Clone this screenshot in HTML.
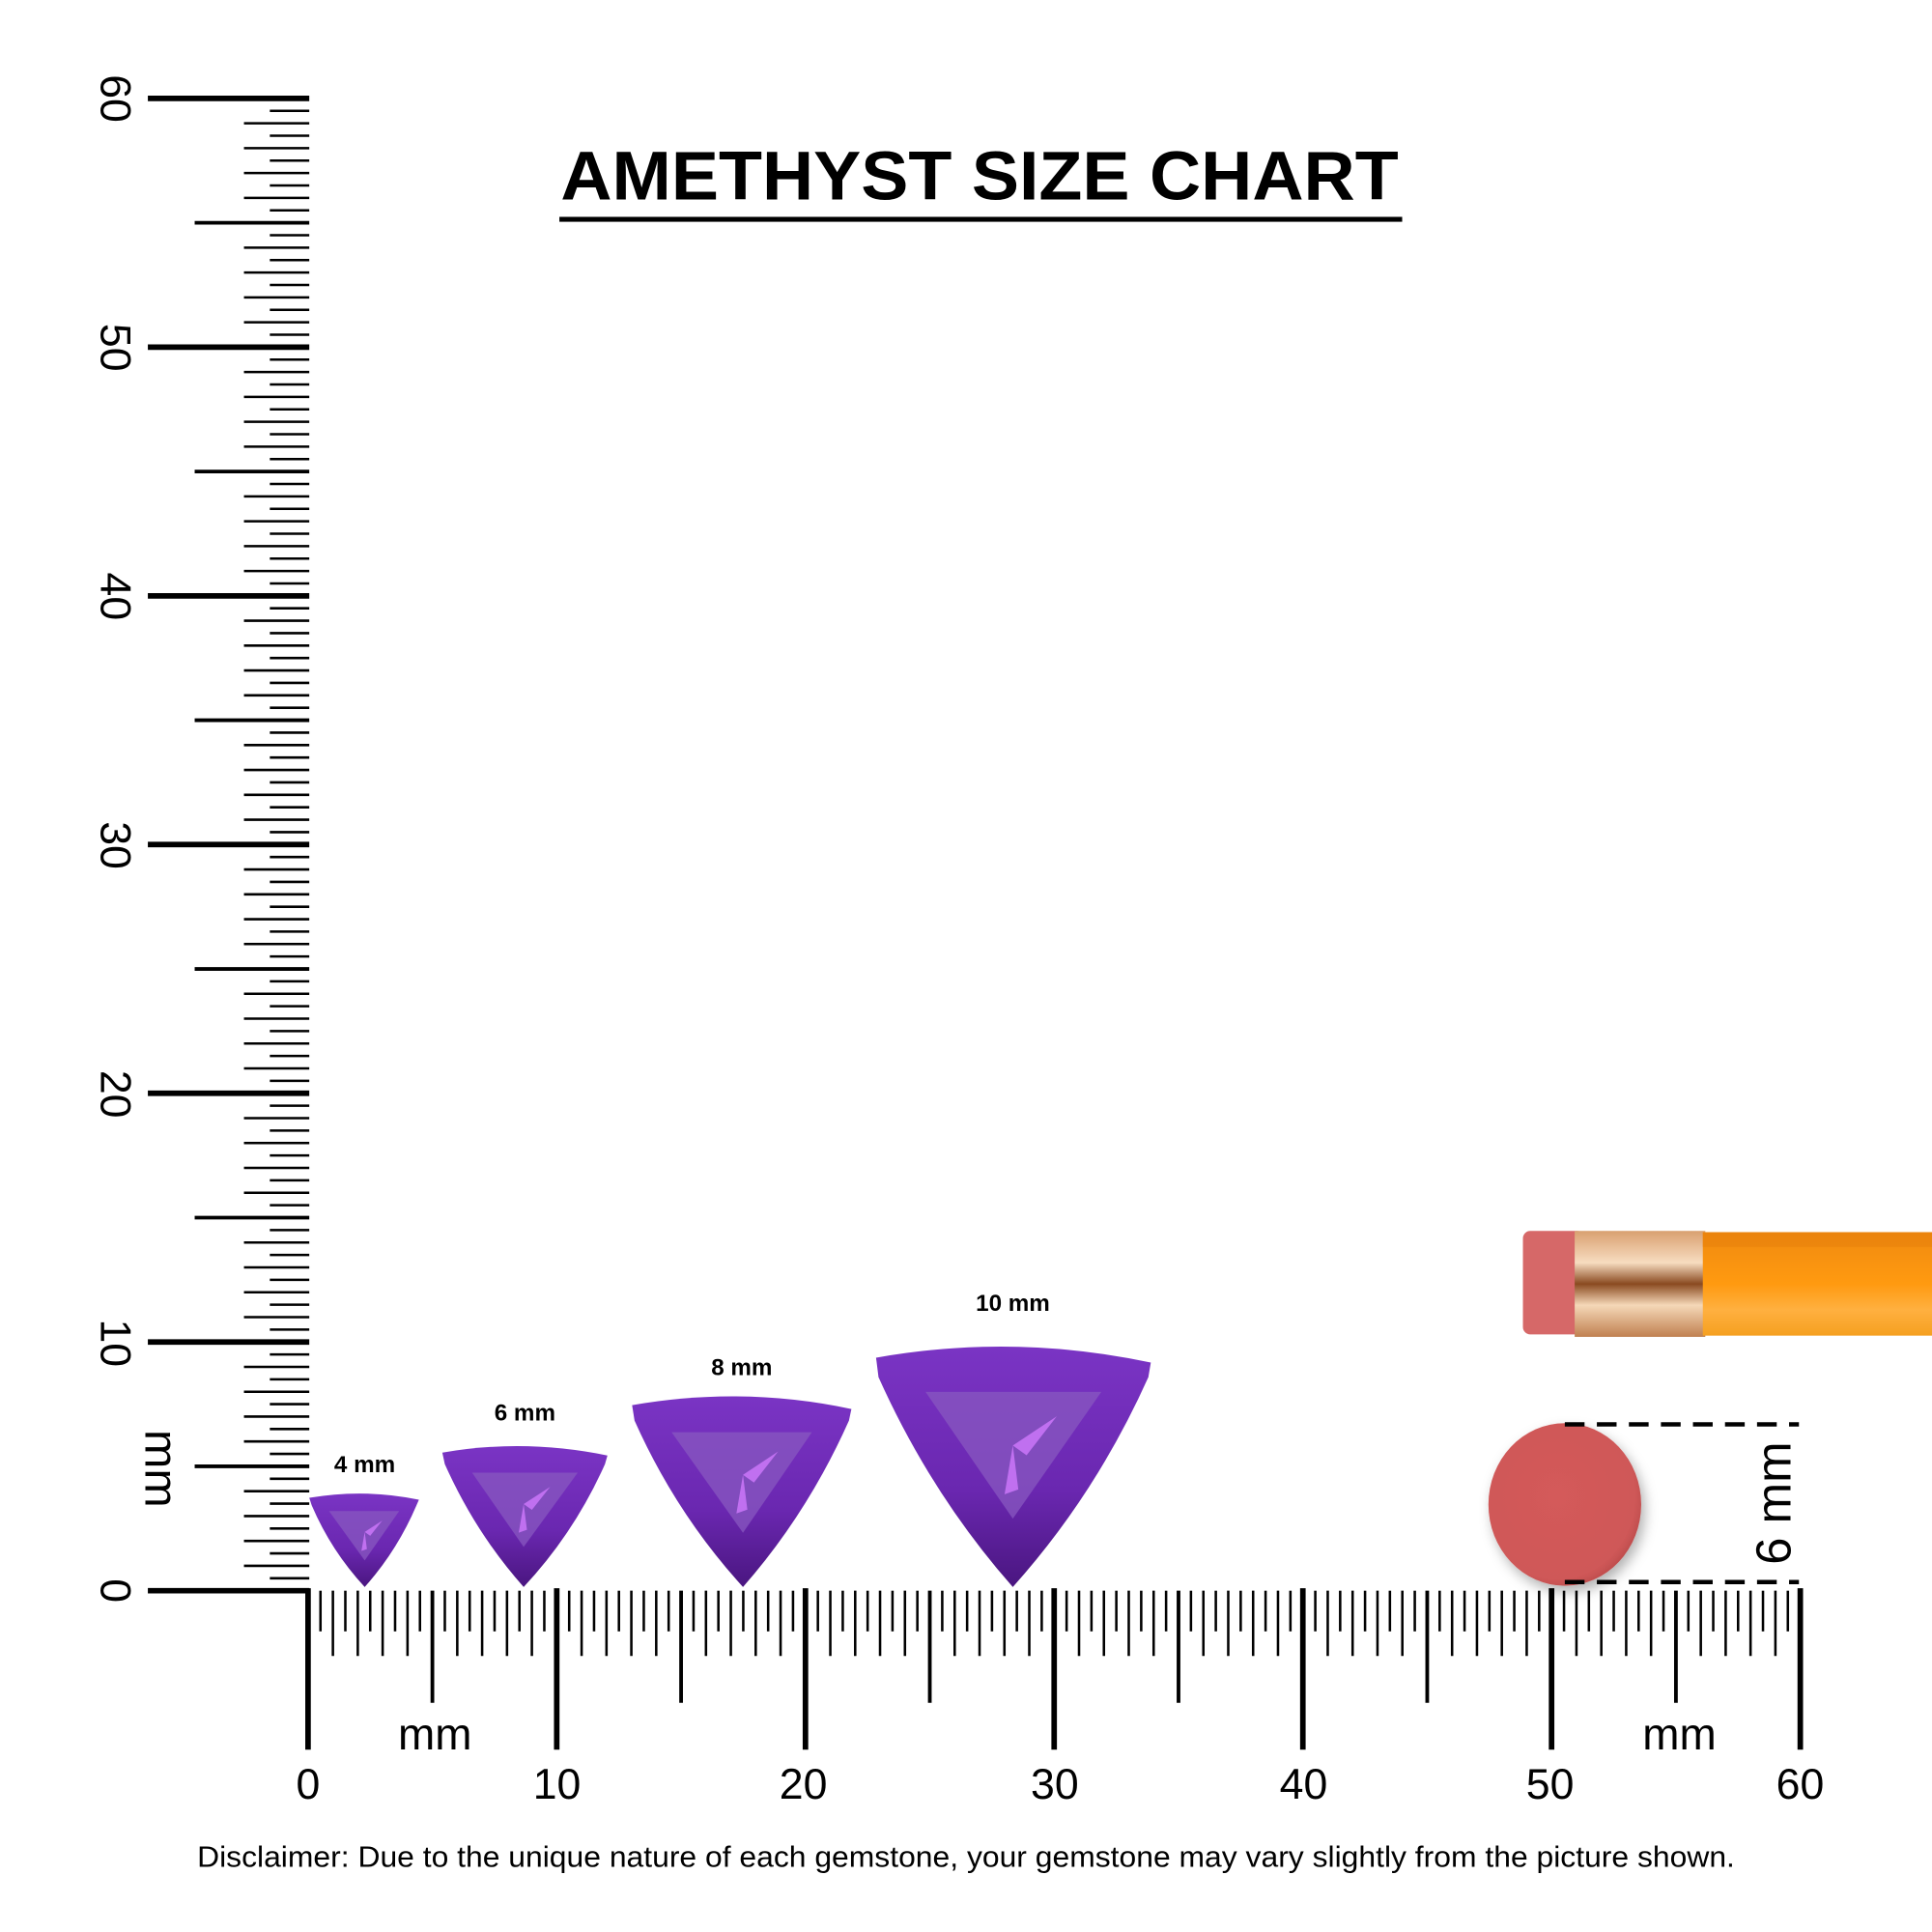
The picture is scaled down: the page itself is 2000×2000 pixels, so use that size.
<!DOCTYPE html>
<html><head><meta charset="utf-8"><style>
html,body{margin:0;padding:0;background:#fff;}
svg{display:block}
</style></head><body>
<svg id="s" width="2000" height="2000" viewBox="0 0 1568 1568" xmlns="http://www.w3.org/2000/svg">
<defs>
<linearGradient id="gm" x1="0" y1="0" x2="0" y2="1">
<stop offset="0" stop-color="#7a34c4"/><stop offset="0.6" stop-color="#6a27b0"/><stop offset="1" stop-color="#4a1680"/>
</linearGradient>
<linearGradient id="pen" x1="0" y1="0" x2="0" y2="1">
<stop offset="0" stop-color="#f08a10"/><stop offset="0.5" stop-color="#ff9a10"/><stop offset="0.75" stop-color="#ffb040"/><stop offset="1" stop-color="#f5a020"/>
</linearGradient>
<linearGradient id="fer" x1="0" y1="0" x2="0" y2="1">
<stop offset="0" stop-color="#d9a070"/><stop offset="0.3" stop-color="#f7dcc0"/><stop offset="0.5" stop-color="#8a4a20"/><stop offset="0.7" stop-color="#f5d8b8"/><stop offset="1" stop-color="#c08050"/>
</linearGradient>
<radialGradient id="er" cx="0.45" cy="0.45" r="0.6">
<stop offset="0" stop-color="#d45a5a"/><stop offset="0.85" stop-color="#cf5858"/><stop offset="1" stop-color="#b84848"/>
</radialGradient>
<filter id="sh" x="-30%" y="-30%" width="160%" height="160%"><feDropShadow dx="3" dy="5" stdDeviation="5" flood-color="#000" flood-opacity="0.3"/></filter>
</defs>
<g id="ticks" stroke="#000" stroke-linecap="butt"></g>

<g font-family="Liberation Sans, sans-serif" fill="#000">
<text x="795" y="162" font-size="56" font-weight="bold" text-anchor="middle" textLength="680" lengthAdjust="spacingAndGlyphs">AMETHYST SIZE CHART</text>
<rect x="454" y="176" width="684" height="4"/>
<g font-size="35" text-anchor="middle">
<text x="250" y="1460">0</text><text x="452" y="1460">10</text><text x="652" y="1460">20</text><text x="856" y="1460">30</text><text x="1058" y="1460">40</text><text x="1258" y="1460">50</text><text x="1461" y="1460">60</text>
</g>
<g font-size="35" text-anchor="middle">
<text transform="translate(82,1291) rotate(90)" >0</text>
<text transform="translate(82,1090) rotate(90)">10</text>
<text transform="translate(82,888) rotate(90)">20</text>
<text transform="translate(82,686) rotate(90)">30</text>
<text transform="translate(82,484) rotate(90)">40</text>
<text transform="translate(82,282) rotate(90)">50</text>
<text transform="translate(82,80) rotate(90)">60</text>
<text font-size="38" transform="translate(118,1192) rotate(90)">mm</text>
<text font-size="40" transform="translate(1453,1220) rotate(-90)">6 mm</text>
</g>
<text x="353" y="1420" font-size="36" text-anchor="middle">mm</text>
<text x="1363" y="1420" font-size="36" text-anchor="middle">mm</text>
<g font-size="19" font-weight="bold" text-anchor="middle">
<text x="296" y="1195">4 mm</text><text x="426" y="1153">6 mm</text><text x="602" y="1116">8 mm</text><text x="822" y="1064">10 mm</text>
</g>
<text x="784" y="1515" font-size="24" text-anchor="middle" textLength="1248" lengthAdjust="spacingAndGlyphs">Disclaimer: Due to the unique nature of each gemstone, your gemstone may vary slightly from the picture shown.</text>
</g>

<g id="gems"></g>

<!-- pencil -->
<rect x="1236" y="999" width="50" height="84" rx="6" fill="#d66868"/>
<rect x="1278" y="999" width="106" height="86" fill="url(#fer)"/>
<rect x="1382" y="1000" width="186" height="84" fill="url(#pen)"/>
<rect x="1382" y="1000" width="186" height="12" fill="#e8800c" opacity="0.6"/>
<!-- eraser -->
<ellipse cx="1270" cy="1221" rx="62" ry="66" fill="url(#er)" filter="url(#sh)"/>
<g stroke="#000" stroke-width="3.5" stroke-dasharray="16 10">
<line x1="1270" y1="1156" x2="1460" y2="1156"/>
<line x1="1270" y1="1284" x2="1460" y2="1284"/>
</g>
</svg>
<script>
var NS="http://www.w3.org/2000/svg",t=document.getElementById("ticks");
function L(x1,y1,x2,y2,w){var l=document.createElementNS(NS,"line");l.setAttribute("x1",x1);l.setAttribute("y1",y1);l.setAttribute("x2",x2);l.setAttribute("y2",y2);l.setAttribute("stroke-width",w);t.appendChild(l);}
var u=20.185,ox=250,oy=1291;
for(var i=0;i<=120;i++){var mm=i/2,y=oy-mm*u,x=ox+mm*u;
 if(mm%10==0)L(120,y,251,y,4.5);else if(mm%5==0)L(158,y,251,y,3);else if(i%2==0)L(198,y,251,y,2);else L(219,y,251,y,2);
 if(mm%10==0)L(x,oy-2,x,1420,4.5);else if(mm%5==0)L(x,oy,x,1382,3);else if(i%2==0)L(x,oy,x,1344,2);else L(x,oy,x,1324,2);
}
var g=document.getElementById("gems");
function gem(Lx,R,T,C,B){var w=R-Lx,h=B-T;
 var d="M"+Lx+","+(T+h*0.06)+" Q"+C+","+(T-h*0.04)+" "+R+","+(T+h*0.08)+" L"+(R-2)+","+(T+h*0.14)+" Q"+(R-w*0.2)+","+(T+h*0.62)+" "+C+","+B+" Q"+(Lx+w*0.2)+","+(T+h*0.62)+" "+(Lx+2)+","+(T+h*0.14)+"Z";
 var p=document.createElementNS(NS,"path");p.setAttribute("d",d);p.setAttribute("fill","url(#gm)");g.appendChild(p);
 var q=document.createElementNS(NS,"path");
 q.setAttribute("d","M"+(Lx+w*0.18)+","+(T+h*0.2)+" L"+(R-w*0.18)+","+(T+h*0.2)+" L"+C+","+(T+h*0.72)+"Z");
 q.setAttribute("fill","#8858c0");q.setAttribute("opacity","0.75");g.appendChild(q);
 var r=document.createElementNS(NS,"path");
 r.setAttribute("d","M"+C+","+(T+h*0.42)+" L"+(C+w*0.16)+","+(T+h*0.3)+" L"+(C+w*0.05)+","+(T+h*0.46)+"Z M"+C+","+(T+h*0.42)+" L"+(C-w*0.03)+","+(T+h*0.62)+" L"+(C+w*0.02)+","+(T+h*0.6)+"Z");
 r.setAttribute("fill","#c070f0");g.appendChild(r);
}
gem(251,340,1211,296,1288);gem(359,493,1172,425,1288);gem(513,691,1131,603,1288);gem(711,934,1090,822,1288);
</script>
</body></html>
